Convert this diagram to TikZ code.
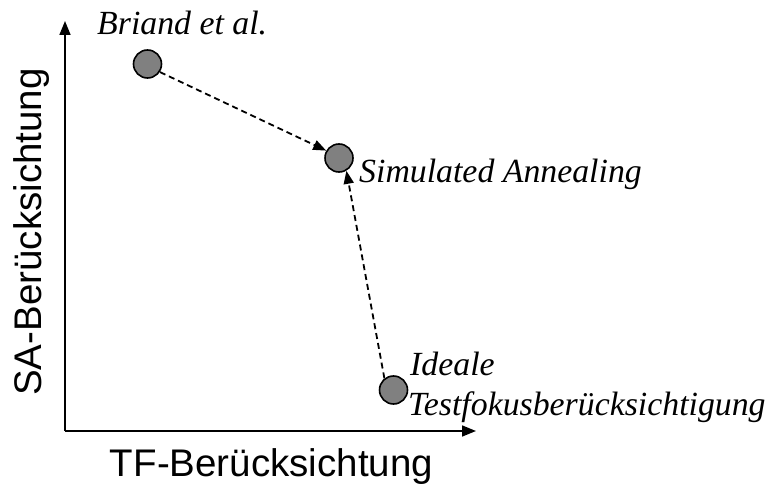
\documentclass[tikz,border=0pt]{standalone}
\usepackage{fontspec}
\setmainfont{Liberation Serif}
\setsansfont{Liberation Sans}
\usetikzlibrary{arrows.meta}
\tikzset{
  pt/.style={circle, draw=black, line width=1.6bp, fill={rgb,255:red,128;green,128;blue,128}, minimum size=28bp, inner sep=0pt},
  axis/.style={line width=1.6bp, -{Triangle[length=14bp,width=11bp]}},
  conn/.style={line width=1.8bp, dash pattern=on 6bp off 4bp, -{Triangle[length=13bp,width=10bp]}},
  lbl/.style={anchor=base west, inner sep=0pt, font=\fontsize{33.8bp}{40bp}\selectfont\itshape},
  axlbl/.style={inner sep=0pt, font=\fontsize{38.5bp}{44bp}\selectfont\sffamily}
}
\begin{document}
\begin{tikzpicture}[x=1bp,y=-1bp]
\useasboundingbox (0,0) rectangle (775,484);
\coordinate (o) at (65,431);
\coordinate (ytip) at (65,21);
\coordinate (xtip) at (476,431);
\draw[axis] (o) -- (ytip);
\draw[axis] (o) -- (xtip);
\node[axlbl, anchor=base] (xl) at (271.5,476) {TF-Berücksichtung};
\node[axlbl, anchor=base, rotate=90] (yl) at (41,232) {SA-Berücksichtung};
\node[pt] (b) at (147.5,64) {};
\node[pt] (s) at (339,158) {};
\node[pt] (i) at (393.5,390) {};
\draw[conn] (b.-33) -- (s.150);
\draw[conn] (i.128) -- (s.-60);
\node[lbl] (bl) at (97,35) {Briand et al.};
\node[lbl] (sl) at (359,183) {Simulated Annealing};
\node[lbl] (il1) at (410,375) {Ideale};
\node[lbl] (il2) at (408,415) {Testfokusberücksichtigung};
\end{tikzpicture}
\end{document}
